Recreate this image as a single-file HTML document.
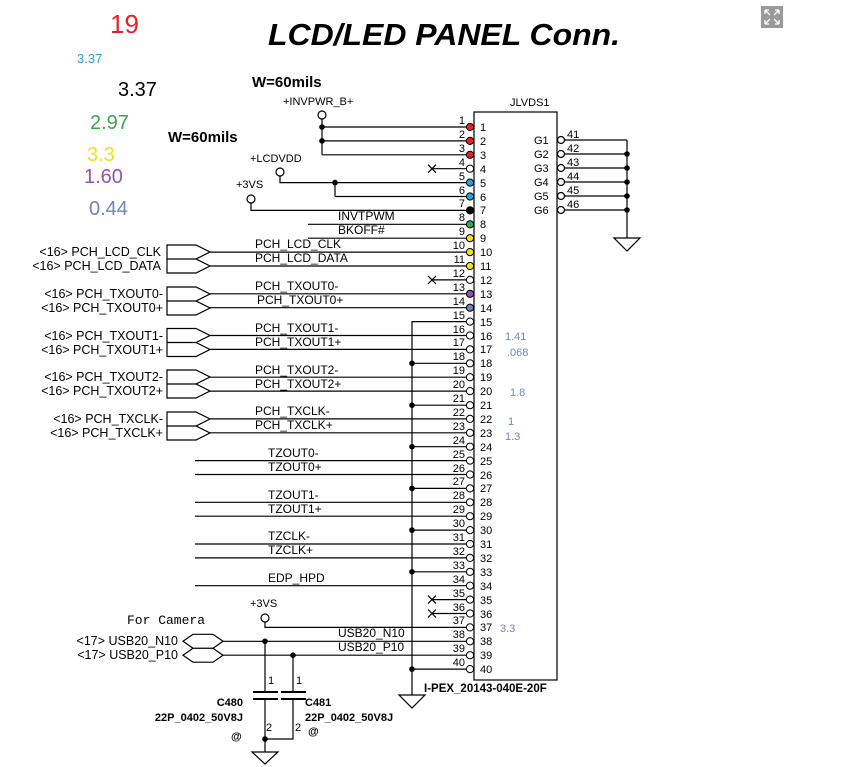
<!DOCTYPE html>
<html><head><meta charset="utf-8"><style>
html,body{margin:0;padding:0;background:#fff;}
svg{display:block;font-family:"Liberation Sans",Arial,sans-serif;}
</style></head><body>
<svg width="855" height="767" viewBox="0 0 855 767" xmlns="http://www.w3.org/2000/svg">
<rect width="855" height="767" fill="#fff"/>
<!-- expand icon -->
<rect x="761" y="6" width="22" height="22" fill="#9a9a9a"/>
<path d="M765 10l5 5M765 10h4M765 10v4M779 10l-5 5M779 10h-4M779 10v4M765 24l5-5M765 24h4M765 24v-4M779 24l-5-5M779 24h-4M779 24v-4" stroke="#fff" stroke-width="1.3" fill="none"/>

<text x="110" y="33" font-size="26" fill="#e8222a">19</text>
<text x="77" y="63" font-size="13" fill="#2a9fd6">3.37</text>
<text x="118" y="96" font-size="20" fill="#000">3.37</text>
<text x="90" y="129" font-size="20" fill="#3aa84a">2.97</text>
<text x="87" y="161" font-size="20" fill="#f2e21a">3.3</text>
<text x="84" y="183" font-size="20" fill="#9a4fb0">1.60</text>
<text x="89" y="215" font-size="20" fill="#6b87c0">0.44</text>

<text x="268" y="45" font-size="31" font-weight="bold" font-style="italic" textLength="352" lengthAdjust="spacingAndGlyphs">LCD/LED PANEL Conn.</text>
<text x="252" y="87" font-size="15" font-weight="bold">W=60mils</text>
<text x="168" y="142" font-size="15" font-weight="bold">W=60mils</text>

<g font-size="11">
<text x="283" y="105">+INVPWR_B+</text>
<text x="250" y="162">+LCDVDD</text>
<text x="236" y="188">+3VS</text>
<text x="510" y="106">JLVDS1</text>
</g>

<g stroke="#000" stroke-width="1.2" fill="none">
<rect x="474" y="112" width="83" height="568"/>
<circle cx="322" cy="115" r="4"/>
<line x1="322" y1="119" x2="322" y2="154.8"/>
<circle cx="280" cy="172" r="4"/>
<polyline points="280,176 280,182.6 466,182.6"/>
<line x1="335" y1="182.6" x2="335" y2="196.5"/>
<circle cx="251" cy="199" r="4"/>
<polyline points="251,203 251,210.4 466,210.4"/>
<line x1="322" y1="127" x2="466" y2="127"/>
<line x1="322" y1="140.9" x2="466" y2="140.9"/>
<line x1="322" y1="154.8" x2="466" y2="154.8"/>
<line x1="432" y1="168.7" x2="466" y2="168.7"/>
<line x1="335" y1="196.5" x2="466" y2="196.5"/>
<line x1="308" y1="224.3" x2="466" y2="224.3"/>
<line x1="308" y1="238.2" x2="466" y2="238.2"/>
<line x1="210" y1="252.1" x2="466" y2="252.1"/>
<line x1="210" y1="266" x2="466" y2="266"/>
<line x1="432" y1="279.9" x2="466" y2="279.9"/>
<line x1="210" y1="293.8" x2="466" y2="293.8"/>
<line x1="210" y1="307.7" x2="466" y2="307.7"/>
<line x1="210" y1="335.5" x2="466" y2="335.5"/>
<line x1="210" y1="349.4" x2="466" y2="349.4"/>
<line x1="210" y1="377.2" x2="466" y2="377.2"/>
<line x1="210" y1="391.1" x2="466" y2="391.1"/>
<line x1="210" y1="418.9" x2="466" y2="418.9"/>
<line x1="210" y1="432.8" x2="466" y2="432.8"/>
<line x1="195" y1="460.6" x2="466" y2="460.6"/>
<line x1="195" y1="474.5" x2="466" y2="474.5"/>
<line x1="195" y1="502.3" x2="466" y2="502.3"/>
<line x1="195" y1="516.2" x2="466" y2="516.2"/>
<line x1="195" y1="544" x2="466" y2="544"/>
<line x1="195" y1="557.9" x2="466" y2="557.9"/>
<line x1="195" y1="585.7" x2="466" y2="585.7"/>
<line x1="432" y1="599.6" x2="466" y2="599.6"/>
<line x1="432" y1="613.5" x2="466" y2="613.5"/>
<circle cx="265" cy="618" r="4"/>
<polyline points="265,622 265,627.4 466,627.4"/>
<line x1="223" y1="641.3" x2="466" y2="641.3"/>
<line x1="223" y1="655.2" x2="466" y2="655.2"/>
<polyline points="466,321.6 412,321.6 412,695"/>
<line x1="412" y1="363.3" x2="466" y2="363.3"/>
<line x1="412" y1="405.2" x2="466" y2="405.2"/>
<line x1="412" y1="446.7" x2="466" y2="446.7"/>
<line x1="412" y1="488.4" x2="466" y2="488.4"/>
<line x1="412" y1="530.1" x2="466" y2="530.1"/>
<line x1="412" y1="571.8" x2="466" y2="571.8"/>
<line x1="412" y1="669.1" x2="466" y2="669.1"/>
<polygon points="399,695 425,695 412,708"/>
<path d="M428 164.7l8 8M436 164.7l-8 8M428 275.9l8 8M436 275.9l-8 8M428 595.6l8 8M436 595.6l-8 8M428 609.5l8 8M436 609.5l-8 8"/>
<line x1="565" y1="140" x2="627" y2="140"/>
<line x1="565" y1="154" x2="627" y2="154"/>
<line x1="565" y1="168" x2="627" y2="168"/>
<line x1="565" y1="182" x2="627" y2="182"/>
<line x1="565" y1="196" x2="627" y2="196"/>
<line x1="565" y1="210" x2="627" y2="210"/>
<line x1="627" y1="140" x2="627" y2="238"/>
<polygon points="614,238 640,238 627,251"/>
<circle cx="561" cy="140" r="3.5" fill="#fff"/>
<circle cx="561" cy="154" r="3.5" fill="#fff"/>
<circle cx="561" cy="168" r="3.5" fill="#fff"/>
<circle cx="561" cy="182" r="3.5" fill="#fff"/>
<circle cx="561" cy="196" r="3.5" fill="#fff"/>
<circle cx="561" cy="210" r="3.5" fill="#fff"/>
<path d="M167,245 H196 L210,252 L196,259 H167 Z M167,259 H196 L210,266 L196,273 H167 Z"/>
<path d="M167,287 H196 L210,294 L196,301 H167 Z M167,301 H196 L210,308 L196,315 H167 Z"/>
<path d="M167,328.5 H196 L210,335.5 L196,342.5 H167 Z M167,342.5 H196 L210,349.5 L196,356.5 H167 Z"/>
<path d="M167,370 H196 L210,377 L196,384 H167 Z M167,384 H196 L210,391 L196,398 H167 Z"/>
<path d="M167,412 H196 L210,419 L196,426 H167 Z M167,426 H196 L210,433 L196,440 H167 Z"/>
<path d="M183,641.3 L193,634.3 H213 L223,641.3 L213,648.3 H193 Z M183,655.2 L193,648.2 H213 L223,655.2 L213,662.2 H193 Z"/>
<line x1="265" y1="641.3" x2="265" y2="692"/>
<line x1="293" y1="655.2" x2="293" y2="692"/>
<line x1="253" y1="692" x2="278" y2="692" stroke-width="2"/>
<line x1="253" y1="699" x2="278" y2="699" stroke-width="2"/>
<line x1="281" y1="692" x2="306" y2="692" stroke-width="2"/>
<line x1="281" y1="699" x2="306" y2="699" stroke-width="2"/>
<polyline points="265,699 265,752"/>
<polyline points="293,699 293,739 265,739"/>
<polygon points="252,752 278,752 265,764"/>
</g>

<g fill="#000">
<circle cx="322" cy="127" r="2.8"/><circle cx="322" cy="140.9" r="2.8"/>
<circle cx="335" cy="182.6" r="2.8"/>
<circle cx="412" cy="363.3" r="2.8"/><circle cx="412" cy="405.2" r="2.8"/>
<circle cx="412" cy="446.7" r="2.8"/><circle cx="412" cy="488.4" r="2.8"/>
<circle cx="412" cy="530.1" r="2.8"/><circle cx="412" cy="571.8" r="2.8"/>
<circle cx="412" cy="669.1" r="2.8"/>
<circle cx="627" cy="154" r="2.8"/><circle cx="627" cy="168" r="2.8"/>
<circle cx="627" cy="182" r="2.8"/><circle cx="627" cy="196" r="2.8"/>
<circle cx="627" cy="210" r="2.8"/>
<circle cx="265" cy="641.3" r="2.8"/><circle cx="293" cy="655.2" r="2.8"/>
<circle cx="265" cy="739" r="2.8"/>
</g>

<g stroke="#000" stroke-width="1">
<circle cx="470" cy="127" r="3.6" fill="#e8222a"/>
<circle cx="470" cy="140.9" r="3.6" fill="#e8222a"/>
<circle cx="470" cy="154.8" r="3.6" fill="#e8222a"/>
<circle cx="470" cy="168.7" r="3.6" fill="#fff"/>
<circle cx="470" cy="182.6" r="3.6" fill="#2a9fd6"/>
<circle cx="470" cy="196.5" r="3.6" fill="#2a9fd6"/>
<circle cx="470" cy="210.4" r="3.6" fill="#000"/>
<circle cx="470" cy="224.3" r="3.6" fill="#3aa84a"/>
<circle cx="470" cy="238.2" r="3.6" fill="#f2e21a"/>
<circle cx="470" cy="252.1" r="3.6" fill="#f2e21a"/>
<circle cx="470" cy="266" r="3.6" fill="#f2e21a"/>
<circle cx="470" cy="279.9" r="3.6" fill="#fff"/>
<circle cx="470" cy="293.8" r="3.6" fill="#9a4fb0"/>
<circle cx="470" cy="307.7" r="3.6" fill="#6b87c0"/>
<circle cx="470" cy="321.6" r="3.6" fill="#fff"/>
<circle cx="470" cy="335.5" r="3.6" fill="#fff"/>
<circle cx="470" cy="349.4" r="3.6" fill="#fff"/>
<circle cx="470" cy="363.3" r="3.6" fill="#fff"/>
<circle cx="470" cy="377.2" r="3.6" fill="#fff"/>
<circle cx="470" cy="391.1" r="3.6" fill="#fff"/>
<circle cx="470" cy="405.2" r="3.6" fill="#fff"/>
<circle cx="470" cy="418.9" r="3.6" fill="#fff"/>
<circle cx="470" cy="432.8" r="3.6" fill="#fff"/>
<circle cx="470" cy="446.7" r="3.6" fill="#fff"/>
<circle cx="470" cy="460.6" r="3.6" fill="#fff"/>
<circle cx="470" cy="474.5" r="3.6" fill="#fff"/>
<circle cx="470" cy="488.4" r="3.6" fill="#fff"/>
<circle cx="470" cy="502.3" r="3.6" fill="#fff"/>
<circle cx="470" cy="516.2" r="3.6" fill="#fff"/>
<circle cx="470" cy="530.1" r="3.6" fill="#fff"/>
<circle cx="470" cy="544" r="3.6" fill="#fff"/>
<circle cx="470" cy="557.9" r="3.6" fill="#fff"/>
<circle cx="470" cy="571.8" r="3.6" fill="#fff"/>
<circle cx="470" cy="585.7" r="3.6" fill="#fff"/>
<circle cx="470" cy="599.6" r="3.6" fill="#fff"/>
<circle cx="470" cy="613.5" r="3.6" fill="#fff"/>
<circle cx="470" cy="627.4" r="3.6" fill="#fff"/>
<circle cx="470" cy="641.3" r="3.6" fill="#fff"/>
<circle cx="470" cy="655.2" r="3.6" fill="#fff"/>
<circle cx="470" cy="669.1" r="3.6" fill="#fff"/>
</g>

<g font-size="11" text-anchor="end">
<text x="465" y="124">1</text><text x="465" y="138">2</text><text x="465" y="152">3</text><text x="465" y="166">4</text><text x="465" y="180">5</text><text x="465" y="194">6</text><text x="465" y="207">7</text><text x="465" y="221">8</text><text x="465" y="235">9</text><text x="465" y="249">10</text><text x="465" y="263">11</text><text x="465" y="277">12</text><text x="465" y="291">13</text><text x="465" y="305">14</text><text x="465" y="319">15</text><text x="465" y="333">16</text><text x="465" y="346">17</text><text x="465" y="360">18</text><text x="465" y="374">19</text><text x="465" y="388">20</text><text x="465" y="402">21</text><text x="465" y="416">22</text><text x="465" y="430">23</text><text x="465" y="444">24</text><text x="465" y="458">25</text><text x="465" y="472">26</text><text x="465" y="485">27</text><text x="465" y="499">28</text><text x="465" y="513">29</text><text x="465" y="527">30</text><text x="465" y="541">31</text><text x="465" y="555">32</text><text x="465" y="569">33</text><text x="465" y="583">34</text><text x="465" y="597">35</text><text x="465" y="611">36</text><text x="465" y="624">37</text><text x="465" y="638">38</text><text x="465" y="652">39</text><text x="465" y="666">40</text>
</g>
<g font-size="11">
<text x="480" y="131">1</text><text x="480" y="145">2</text><text x="480" y="159">3</text><text x="480" y="173">4</text><text x="480" y="187">5</text><text x="480" y="201">6</text><text x="480" y="214">7</text><text x="480" y="228">8</text><text x="480" y="242">9</text><text x="480" y="256">10</text><text x="480" y="270">11</text><text x="480" y="284">12</text><text x="480" y="298">13</text><text x="480" y="312">14</text><text x="480" y="326">15</text><text x="480" y="340">16</text><text x="480" y="353">17</text><text x="480" y="367">18</text><text x="480" y="381">19</text><text x="480" y="395">20</text><text x="480" y="409">21</text><text x="480" y="423">22</text><text x="480" y="437">23</text><text x="480" y="451">24</text><text x="480" y="465">25</text><text x="480" y="479">26</text><text x="480" y="492">27</text><text x="480" y="506">28</text><text x="480" y="520">29</text><text x="480" y="534">30</text><text x="480" y="548">31</text><text x="480" y="562">32</text><text x="480" y="576">33</text><text x="480" y="590">34</text><text x="480" y="604">35</text><text x="480" y="618">36</text><text x="480" y="631">37</text><text x="480" y="645">38</text><text x="480" y="659">39</text><text x="480" y="673">40</text>
<text x="534" y="144">G1</text><text x="534" y="158">G2</text><text x="534" y="172">G3</text><text x="534" y="186">G4</text><text x="534" y="200">G5</text><text x="534" y="214">G6</text>
<text x="567" y="138">41</text><text x="567" y="152">42</text><text x="567" y="166">43</text><text x="567" y="180">44</text><text x="567" y="194">45</text><text x="567" y="208">46</text>
</g>

<g font-size="11" fill="#6b87c0">
<text x="505" y="340">1.41</text><text x="507" y="356">.068</text><text x="510" y="396">1.8</text><text x="508" y="425">1</text><text x="505" y="440">1.3</text><text x="500" y="632">3.3</text>
</g>

<g font-size="12">
<text x="338" y="220">INVTPWM</text>
<text x="338" y="234">BKOFF#</text>
<text x="255" y="248">PCH_LCD_CLK</text>
<text x="255" y="262">PCH_LCD_DATA</text>
<text x="255" y="290">PCH_TXOUT0-</text>
<text x="257" y="304">PCH_TXOUT0+</text>
<text x="255" y="332">PCH_TXOUT1-</text>
<text x="255" y="346">PCH_TXOUT1+</text>
<text x="255" y="374">PCH_TXOUT2-</text>
<text x="255" y="388">PCH_TXOUT2+</text>
<text x="255" y="415">PCH_TXCLK-</text>
<text x="255" y="429">PCH_TXCLK+</text>
<text x="268" y="457">TZOUT0-</text>
<text x="268" y="471">TZOUT0+</text>
<text x="268" y="499">TZOUT1-</text>
<text x="268" y="513">TZOUT1+</text>
<text x="268" y="540">TZCLK-</text>
<text x="268" y="554">TZCLK+</text>
<text x="268" y="582">EDP_HPD</text>
<text x="338" y="637">USB20_N10</text>
<text x="338" y="651">USB20_P10</text>
</g>
<g font-size="12.5" text-anchor="end" xml:space="preserve">
<text x="161" y="256">&lt;16&gt;  PCH_LCD_CLK</text>
<text x="161" y="270">&lt;16&gt;  PCH_LCD_DATA</text>
<text x="163" y="298">&lt;16&gt;  PCH_TXOUT0-</text>
<text x="163" y="312">&lt;16&gt;  PCH_TXOUT0+</text>
<text x="163" y="340">&lt;16&gt;  PCH_TXOUT1-</text>
<text x="163" y="354">&lt;16&gt;  PCH_TXOUT1+</text>
<text x="163" y="381">&lt;16&gt;  PCH_TXOUT2-</text>
<text x="163" y="395">&lt;16&gt;  PCH_TXOUT2+</text>
<text x="163" y="423">&lt;16&gt;  PCH_TXCLK-</text>
<text x="163" y="437">&lt;16&gt;  PCH_TXCLK+</text>
<text x="178" y="645">&lt;17&gt;  USB20_N10</text>
<text x="178" y="659">&lt;17&gt;  USB20_P10</text>
</g>
<text x="127" y="624" font-size="13" font-family="Liberation Mono,monospace">For Camera</text>
<text x="250" y="607" font-size="11">+3VS</text>
<text x="424" y="692" font-size="11.5" font-weight="bold">I-PEX_20143-040E-20F</text>
<g font-size="11">
<text x="268" y="684">1</text><text x="296" y="684">1</text>
<text x="266" y="731">2</text><text x="295" y="731">2</text>
</g>
<g font-size="11" font-weight="bold">
<text x="243" y="706" text-anchor="end">C480</text>
<text x="243" y="721" text-anchor="end">22P_0402_50V8J</text>
<text x="231" y="740">@</text>
<text x="305" y="706">C481</text>
<text x="305" y="721">22P_0402_50V8J</text>
<text x="308" y="735">@</text>
</g>
</svg>
</body></html>
